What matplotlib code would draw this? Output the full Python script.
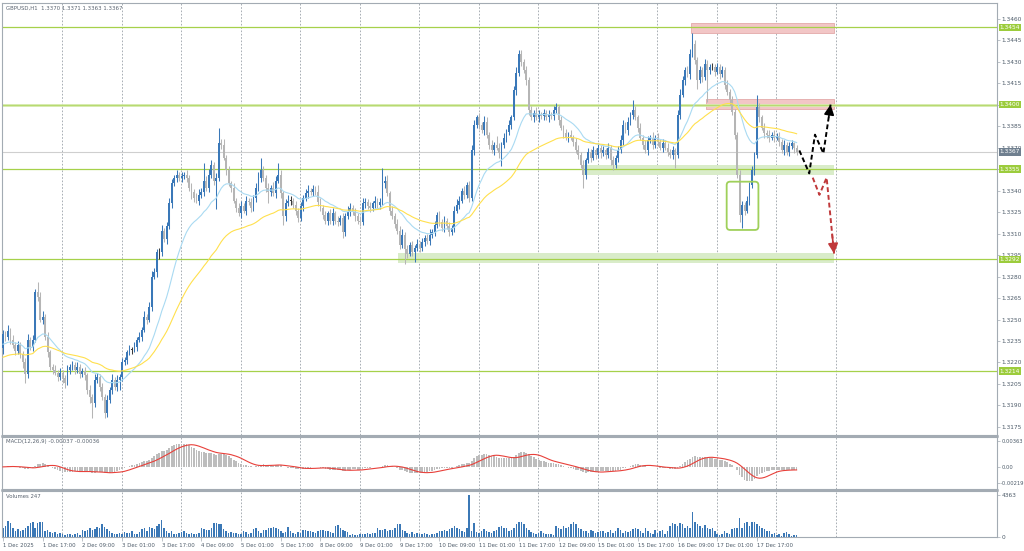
import numpy as np
import pandas as pd
import matplotlib
matplotlib.use("Agg")
import matplotlib.pyplot as plt
from matplotlib.transforms import blended_transform_factory
from matplotlib.patches import Rectangle, FancyBboxPatch

# ---------------- data ----------------
title_text = "GBPUSD,H1  1.3370 1.3371 1.3363 1.3367"
macd_text = "MACD(12,26,9) -0.00037 -0.00036"
vol_text = "Volumes 247"

first_open = 1.3230
closes = [
    1.3240, 1.3238, 1.3242, 1.3236, 1.3232, 1.3228, 1.3232, 1.3226, 1.3220, 1.3212, 1.3236, 1.3231, 1.3236, 1.3269, 1.3266, 1.3250, 1.3252, 1.3238, 1.3227, 1.3217,
    1.3215, 1.3213, 1.3210, 1.3213, 1.3209, 1.3206, 1.3215, 1.3217, 1.3218, 1.3215, 1.3217, 1.3212, 1.3214, 1.3211, 1.3201, 1.3196, 1.3192, 1.3208, 1.3210, 1.3203,
    1.3196, 1.3185, 1.3194, 1.3201, 1.3208, 1.3203, 1.3208, 1.3210, 1.3220, 1.3222, 1.3227, 1.3229, 1.3229, 1.3231, 1.3236, 1.3238, 1.3243, 1.3252, 1.3250, 1.3259,
    1.3280, 1.3283, 1.3297, 1.3297, 1.3312, 1.3306, 1.3315, 1.3331, 1.3345, 1.3349, 1.3351, 1.3349, 1.3350, 1.3351, 1.3349, 1.3342, 1.3339, 1.3335, 1.3333, 1.3337,
    1.3339, 1.3347, 1.3342, 1.3351, 1.3358, 1.3347, 1.3349, 1.3373, 1.3372, 1.3363, 1.3354, 1.3345, 1.3342, 1.3333, 1.3328, 1.3324, 1.3329, 1.3326, 1.3333, 1.3332,
    1.3328, 1.3335, 1.3342, 1.3349, 1.3354, 1.3349, 1.3342, 1.3339, 1.3342, 1.3338, 1.3347, 1.3351, 1.3338, 1.3322, 1.3331, 1.3333, 1.3333, 1.3330, 1.3326, 1.3321,
    1.3329, 1.3335, 1.3338, 1.3340, 1.3339, 1.3341, 1.3339, 1.3332, 1.3328, 1.3323, 1.3319, 1.3324, 1.3319, 1.3324, 1.3319, 1.3318, 1.3321, 1.3311, 1.3322, 1.3325,
    1.3328, 1.3325, 1.3322, 1.3319, 1.3318, 1.3331, 1.3332, 1.3329, 1.3328, 1.3331, 1.3333, 1.3330, 1.3332, 1.3345, 1.3347, 1.3338, 1.3326, 1.3322, 1.3317, 1.3312,
    1.3302, 1.3309, 1.3299, 1.3296, 1.3302, 1.3297, 1.3300, 1.3303, 1.3300, 1.3304, 1.3307, 1.3305, 1.3309, 1.3311, 1.3316, 1.3323, 1.3318, 1.3314, 1.3319, 1.3315,
    1.3311, 1.3314, 1.3326, 1.3330, 1.3333, 1.3340, 1.3337, 1.3344, 1.3335, 1.3368, 1.3386, 1.3391, 1.3386, 1.3382, 1.3388, 1.3379, 1.3372, 1.3368, 1.3372, 1.3370,
    1.3366, 1.3372, 1.3377, 1.3381, 1.3386, 1.3391, 1.3410, 1.3422, 1.3435, 1.3430, 1.3424, 1.3417, 1.3396, 1.3391, 1.3394, 1.3391, 1.3393, 1.3392, 1.3394, 1.3391,
    1.3393, 1.3392, 1.3396, 1.3398, 1.3389, 1.3384, 1.3380, 1.3377, 1.3379, 1.3377, 1.3374, 1.3368, 1.3365, 1.3358, 1.3351, 1.3361, 1.3367, 1.3363, 1.3368, 1.3365,
    1.3370, 1.3366, 1.3368, 1.3365, 1.3370, 1.3361, 1.3358, 1.3363, 1.3368, 1.3375, 1.3386, 1.3382, 1.3388, 1.3393, 1.3396, 1.3391, 1.3384, 1.3377, 1.3372, 1.3368,
    1.3375, 1.3377, 1.3372, 1.3377, 1.3374, 1.3370, 1.3373, 1.3370, 1.3367, 1.3365, 1.3368, 1.3365, 1.3393, 1.3407, 1.3417, 1.3424, 1.3421, 1.3435, 1.3442, 1.3431,
    1.3417, 1.3424, 1.3419, 1.3428, 1.3424, 1.3426, 1.3426, 1.3423, 1.3426, 1.3421, 1.3424, 1.3414, 1.3409, 1.3403, 1.3395, 1.3379, 1.3351, 1.3323, 1.3330, 1.3326,
    1.3333, 1.3344, 1.3354, 1.3365, 1.3398, 1.3391, 1.3384, 1.3380, 1.3379, 1.3377, 1.3379, 1.3377, 1.3378, 1.3374, 1.3368, 1.3372, 1.3367, 1.3371, 1.3373, 1.3370, 1.3367,
]
upper_wick_pips = [
    3,2,4,2,3,2,3,2,2,3,4,2,3,2,7,3,4,2,3,2,
    2,3,2,3,2,2,3,2,3,2,3,2,2,3,2,3,2,4,3,2,
    3,2,3,2,4,2,3,2,3,2,2,3,2,3,2,3,2,4,2,3,
    4,3,2,3,4,2,3,4,3,2,3,2,3,2,3,2,3,2,3,4,
    3,12,3,4,3,2,3,11,3,4,2,3,2,3,2,3,4,2,3,2,
    3,2,3,4,9,3,2,3,2,4,3,8,3,2,3,4,3,2,3,2,
    3,2,3,4,2,3,2,5,3,2,3,2,3,4,2,3,2,3,2,4,
    3,2,3,2,3,4,3,2,3,2,3,2,3,11,3,4,2,3,2,3,
    3,4,2,3,2,3,2,3,2,3,2,3,4,2,3,2,3,2,3,2,
    3,2,3,4,3,2,3,2,3,4,3,2,3,2,4,3,2,3,2,6,
    3,2,3,2,3,2,3,4,3,3,2,3,2,3,2,4,3,2,3,2,
    3,2,3,3,2,3,2,3,2,3,2,3,4,2,3,2,3,2,3,2,
    3,2,3,2,3,2,3,2,3,4,3,2,3,2,7,3,2,3,2,3,
    3,2,4,2,3,2,3,2,3,2,3,2,3,4,3,2,3,4,8,3,
    2,3,2,4,3,2,3,2,3,2,3,2,3,2,3,2,2,3,3,2,
    3,2,3,2,9,3,2,3,2,3,2,3,2,3,2,3,2,3,2,1,2,
]
lower_wick_pips = [
    4,3,2,3,2,3,2,3,4,6,3,2,3,2,3,2,3,2,3,2,
    3,2,3,2,3,4,2,3,2,3,2,3,2,3,3,4,11,3,2,3,
    2,4,3,2,3,2,3,7,3,2,3,2,3,2,3,2,3,2,3,2,
    3,2,3,5,3,2,3,2,3,2,3,2,3,2,3,2,5,3,2,3,
    2,3,2,3,2,3,20,2,3,2,3,2,3,2,3,2,3,2,3,2,
    3,2,3,2,3,2,3,8,3,2,3,2,3,6,3,2,3,2,3,3,
    2,3,2,3,2,3,2,3,2,3,2,3,2,3,2,3,2,4,3,2,
    3,2,3,2,3,2,3,2,3,2,3,2,3,2,3,2,3,2,3,2,
    3,2,10,3,2,3,7,2,3,2,3,2,3,2,3,2,3,2,3,2,
    3,2,3,2,3,2,3,2,3,2,3,2,3,2,3,2,3,2,3,2,
    3,9,2,3,2,3,2,3,2,3,2,3,3,2,3,2,3,2,3,2,
    3,2,3,2,3,2,3,2,3,2,3,2,3,2,9,3,2,3,2,3,
    2,3,2,3,2,3,4,2,3,2,3,2,3,2,3,2,3,2,3,2,
    3,2,3,2,3,2,3,2,3,2,3,9,2,3,2,3,2,3,2,3,
    6,2,3,2,22,3,2,3,2,3,2,3,2,3,2,3,2,5,9,3,
    2,3,2,3,2,3,2,3,2,3,2,3,2,3,2,3,2,3,2,4,2,
]
volumes = [
    910,1120,1630,1420,905,610,815,600,710,915,1105,1420,1610,900,1410,1520,
    1510,605,720,505,410,520,310,415,305,210,320,300,215,310,405,220,
    715,610,705,920,700,815,1010,905,1320,1015,810,605,410,305,315,420,
    310,520,405,410,615,300,320,510,815,910,605,1010,920,805,1110,1310,
    1720,910,610,405,620,310,300,415,505,610,420,305,410,315,300,410,
    905,820,710,705,910,1420,1410,1310,1320,805,615,410,505,420,405,310,
    305,610,520,300,410,815,910,605,420,705,710,915,905,1010,920,810,
    610,415,505,1010,620,410,305,510,420,715,705,610,620,505,410,615,
    710,705,610,620,505,410,1110,1210,905,715,610,505,210,305,215,200,
    305,310,300,410,315,405,420,910,705,715,810,605,710,700,915,1310,
    1320,715,610,405,310,505,300,410,315,305,420,310,205,300,315,405,
    610,605,715,620,805,910,1110,905,815,610,505,910,4363,605,1410,505,
    410,615,810,605,505,415,610,705,1010,1110,905,915,610,705,910,1310,
    1510,1610,1320,905,710,505,410,305,420,610,405,310,300,315,210,1110,
    910,805,1110,915,1010,1310,1510,1320,905,810,615,605,410,705,610,420,
    505,610,615,405,510,705,410,615,910,705,415,610,505,620,810,905,
    810,605,410,915,610,405,310,705,415,610,705,305,615,1110,1410,1310,
    1110,1410,1320,910,1115,905,2610,1610,1310,1105,910,1210,905,810,915,610,
    305,210,315,610,405,310,810,905,915,2010,910,1410,1510,1110,1610,1520,
    1310,1110,905,810,610,605,310,410,215,305,110,405,510,305,120,210,
    247,
]
x_tick_labels = ["1 Dec 2025", "1 Dec 17:00", "2 Dec 09:00", "3 Dec 01:00", "3 Dec 17:00",
                 "4 Dec 09:00", "5 Dec 01:00", "5 Dec 17:00", "8 Dec 09:00", "9 Dec 01:00",
                 "9 Dec 17:00", "10 Dec 09:00", "11 Dec 01:00", "11 Dec 17:00", "12 Dec 09:00",
                 "15 Dec 01:00", "15 Dec 17:00", "16 Dec 09:00", "17 Dec 01:00", "17 Dec 17:00"]
bars_per_label = 16

level_prices = [1.3454, 1.3400, 1.3355, 1.3292, 1.3214]
level_labels = ["1.3454", "1.3400", "1.3355", "1.3292", "1.3214"]
current_price = 1.3367
current_label = "1.3367"

ema_fast_period, ema_fast_seed = 20, 1.3232
ema_slow_period, ema_slow_seed = 50, 1.3223
macd_fast, macd_slow, macd_signal = 12, 26, 9
macd_seed = 1.3232

# zones: (start bar, end bar, low price, high price)
supply_zones = [(277.3, 335.1, 1.3450, 1.3457), (283.5, 335.1, 1.33967, 1.34037)]
demand_zones = [(233.5, 335.1, 1.3351, 1.3358), (159.3, 335.1, 1.32894, 1.32964)]
highlight_box = (291.8, 304.6, 1.33125, 1.33462)
bull_path_x = [321.1, 325.1, 327.4, 330.8, 333.7]
bull_path_y = [1.3368, 1.3352, 1.3379, 1.3366, 1.3400]
bear_path_x = [326.5, 329.2, 332.1, 335.1]
bear_path_y = [1.3349, 1.3337, 1.3349, 1.3296]
grid_first, grid_step, grid_count = 23.8, 24, 14

main_ticks = [round(1.3175 + 0.0015 * k, 4) for k in range(20)]

# ---------------- computation ----------------
pip = 0.0001
c = np.array(closes)
n = len(c)
idx = np.arange(n)
o = np.concatenate([[first_open], c[:-1]])
hi = np.maximum(o, c) + np.array(upper_wick_pips[:n]) * pip
lo = np.minimum(o, c) - np.array(lower_wick_pips[:n]) * pip


def ema(values, period, seed):
    a = 2.0 / (period + 1)
    out = np.empty(len(values))
    prev = seed
    for k, v in enumerate(values):
        prev = prev + a * (v - prev)
        out[k] = prev
    return out


ema_fast = ema(c, ema_fast_period, ema_fast_seed)
ema_slow = ema(c, ema_slow_period, ema_slow_seed)
macd_main = ema(c, macd_fast, macd_seed) - ema(c, macd_slow, macd_seed)
macd_sig = pd.Series(macd_main).rolling(macd_signal, min_periods=1).mean().values

# ---------------- figure ----------------
W, H = 1024, 551
fig = plt.figure(figsize=(W / 100, H / 100), dpi=100)
fig.patch.set_facecolor("white")


def px_axes(l, t, r, b):
    return fig.add_axes([l / W, 1 - b / H, (r - l) / W, (b - t) / H])


ax = px_axes(2, 3, 997, 435)
axm = px_axes(2, 437, 997, 489)
axv = px_axes(2, 491, 997, 537)

xmin, xmax = -0.4, 400.8
ymin, ymax = 1.31694, 1.34709
spine_col = "#a3abb3"
lab_col = "#4d5b69"
fs = 4.2
for a in (ax, axm, axv):
    a.set_xlim(xmin, xmax)
    a.set_facecolor("white")
    for s in a.spines.values():
        s.set_color(spine_col)
        s.set_linewidth(0.8)
    a.yaxis.tick_right()
    a.tick_params(axis="y", direction="out", length=2, width=0.5, labelsize=fs,
                  colors=spine_col, labelcolor=lab_col, pad=1.5)
    for g in range(grid_count):
        a.axvline(grid_first + grid_step * g, color="#9aa1a8", lw=0.6,
                  ls=(0, (2, 2)), zorder=0.5)
ax.set_ylim(ymin, ymax)
ax.set_xticks([])
axm.set_xticks([])

# separators
for yy in (436, 490):
    fig.add_artist(plt.Line2D([2 / W, 997 / W], [1 - yy / H, 1 - yy / H],
                              color="#a3abb3", lw=1.8))

# main y ticks (labels hidden where a level box covers them completely)
covered = {"1.3400", "1.3355"}
ax.set_yticks(main_ticks)
ax.set_yticklabels(["" if f"{t:.4f}" in covered else f"{t:.4f}" for t in main_ticks])

# zones
for x0, x1, p0, p1 in supply_zones:
    ax.add_patch(Rectangle((x0, p0), x1 - x0, p1 - p0, fc="#f2c6c6", ec="#e3a9a9",
                           lw=0.6, zorder=1))
for x0, x1, p0, p1 in demand_zones:
    ax.add_patch(Rectangle((x0, p0), x1 - x0, p1 - p0, fc="#d9ecc9", ec="none",
                           lw=0, zorder=1))

# level lines
for lp in level_prices:
    if abs(lp - 1.3400) < 1e-6:
        ax.axhline(lp, color="#d3e9a8", lw=2.0, zorder=1.5)
        ax.axhline(lp, color="#b3d867", lw=0.6, zorder=1.6)
    else:
        ax.axhline(lp, color="#a6d14a", lw=0.9, zorder=1.6)
ax.axhline(current_price, color="#cfcfcf", lw=0.8, zorder=1.4)

# candles
blue = "#3a78b8"
gray = "#b5b5b5"
dark = "#3a3a3a"
cols = []
for oo, cc in zip(o, c):
    if cc > oo + 1e-6:
        cols.append(blue)
    elif cc < oo - 1e-6:
        cols.append(gray)
    else:
        cols.append(dark)
ax.vlines(idx, lo, hi, colors=cols, lw=0.75, zorder=4)
ax.bar(idx, np.maximum(np.abs(c - o), 0.00004), bottom=np.minimum(o, c), width=0.75,
       color=cols, lw=0, zorder=5)

# moving averages
ax.plot(idx, ema_fast, color="#a9daf2", lw=0.8, zorder=6)
ax.plot(idx, ema_slow, color="#ffe04d", lw=0.8, zorder=6)

# highlight box (rounded)
fx0 = (highlight_box[0] - xmin) / (xmax - xmin)
fx1 = (highlight_box[1] - xmin) / (xmax - xmin)
fy0 = (highlight_box[2] - ymin) / (ymax - ymin)
fy1 = (highlight_box[3] - ymin) / (ymax - ymin)
ax.add_patch(FancyBboxPatch((fx0, fy0), fx1 - fx0, fy1 - fy0,
                            boxstyle="round,pad=0,rounding_size=0.0035",
                            mutation_aspect=995 / 432, transform=ax.transAxes,
                            fc="none", ec="#9fd05a", lw=1.3, zorder=7))

# scenario arrows
ax.plot(bull_path_x, bull_path_y, color="black", lw=1.4, ls=(0, (2.5, 1.5)), zorder=8)
ax.plot(bear_path_x, bear_path_y, color="#c0393b", lw=1.4, ls=(0, (2.5, 1.5)), zorder=8)
for px_, py_, colr in ((bull_path_x, bull_path_y, "black"), (bear_path_x, bear_path_y, "#c0393b")):
    xe, ye = px_[-1], py_[-1]
    xs = xe - 0.25 * (px_[-1] - px_[-2])
    ys = ye - 0.25 * (py_[-1] - py_[-2])
    ax.annotate("", xy=(xe, ye), xytext=(xs, ys),
                arrowprops=dict(arrowstyle="-|>,head_length=0.6,head_width=0.3",
                                color=colr, lw=1.2, shrinkA=0, shrinkB=0), zorder=9)

# right side label boxes
tr = blended_transform_factory(ax.transAxes, ax.transData)
for lp, lt in zip(level_prices, level_labels):
    ax.text(1.0028, lp, lt, transform=tr, fontsize=fs, color="white", va="center",
            ha="left", clip_on=False, zorder=10,
            bbox=dict(boxstyle="square,pad=0.2", fc="#9ccc3c", ec="none"))
ax.text(1.0028, current_price, current_label, transform=tr, fontsize=fs, color="white",
        va="center", ha="left", clip_on=False, zorder=10,
        bbox=dict(boxstyle="square,pad=0.2", fc="#6f7f8f", ec="none"))

# MACD panel
axm.bar(idx, macd_main, width=0.7, color="#bdbdbd", lw=0, zorder=2)
axm.plot(idx, macd_sig, color="#e8403a", lw=0.8, zorder=3)
axm.set_ylim(-0.0030, 0.0042)
axm.set_yticks([0.00363, 0.0, -0.00219])
axm.set_yticklabels(["0.00363", "0.00", "-0.00219"])
axm.tick_params(axis="y", labelsize=3.7, pad=1.0)

# Volume panel
axv.bar(idx, volumes[:n], width=0.62, color="#3b78b6", lw=0, zorder=2)
axv.set_ylim(0, 4780)
axv.set_yticks([0, 4363])
axv.set_yticklabels(["0", "4363"])
xt = [k * bars_per_label for k in range(len(x_tick_labels))]
axv.set_xticks(xt)
axv.set_xticklabels(x_tick_labels, ha="left")
axv.tick_params(axis="x", direction="out", length=3, width=0.5, labelsize=3.9,
                colors=spine_col, labelcolor=lab_col, pad=1.5)

# panel captions
cap_col = "#5a6470"
fig.text(6 / W, 1 - 8 / H, title_text, fontsize=3.9, color=cap_col, va="center", ha="left")
fig.text(6 / W, 1 - 442 / H, macd_text, fontsize=3.9, color=cap_col, va="center", ha="left")
fig.text(6 / W, 1 - 496 / H, vol_text, fontsize=3.9, color=cap_col, va="center", ha="left")

fig.savefig("out.png", dpi=100, facecolor="white")
